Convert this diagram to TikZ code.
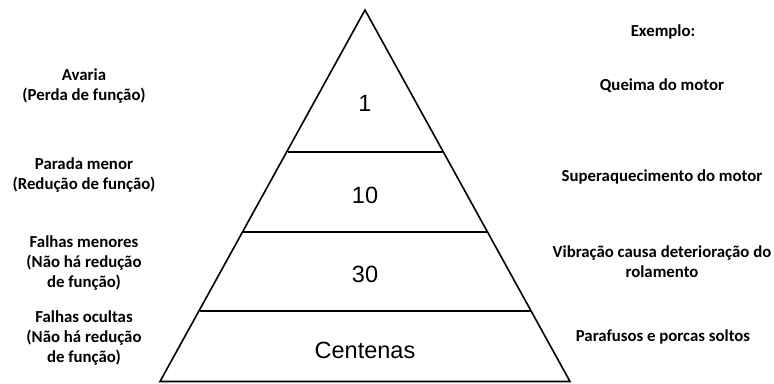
\documentclass[tikz,border=0pt]{standalone}
\usepackage{fontspec}
\setmainfont{Carlito}
\newfontfamily\numfont{Liberation Sans}
\begin{document}
\begin{tikzpicture}[x=1pt,y=-1pt,
  lbl/.style={font=\fontsize{16.8}{20}\selectfont\bfseries, align=center, inner sep=0pt},
  num/.style={font=\numfont\fontsize{23.5}{28}\selectfont, inner sep=0pt},
  edge/.style={line width=1.6pt, line join=miter}]
\useasboundingbox (0,0) rectangle (774,383);
% pyramid
\coordinate (apex) at (365,10);
\coordinate (bl) at (160,381.5);
\coordinate (br) at (570,381.5);
\draw[edge] (bl) -- (apex) -- (br) -- cycle;
\draw[edge] (287.5,152) -- (442.5,152);
\draw[edge] (243,232) -- (487,232);
\draw[edge] (199.5,311) -- (530.5,311);
% numbers
\node[num] (n1) at (365,103) {1};
\node[num] (n10) at (365,195) {10};
\node[num] (n30) at (365,274) {30};
\node[num] (nc) at (365,350) {Centenas};
% left labels
\node[lbl] (l1) at (84,86) {Avaria\\(Perda de função)};
\node[lbl] (l2) at (84,175) {Parada menor\\(Redução de função)};
\node[lbl] (l3) at (84,263) {Falhas menores\\(Não há redução\\de função)};
\node[lbl] (l4) at (84,338) {Falhas ocultas\\(Não há redução\\de função)};
% right labels
\node[lbl] (ex) at (663,32) {Exemplo:};
\node[lbl] (r1) at (662,86) {Queima do motor};
\node[lbl] (r2) at (662,177) {Superaquecimento do motor};
\node[lbl] (r3) at (662,262) {Vibração causa deterioração do\\rolamento};
\node[lbl] (r4) at (663,337) {Parafusos e porcas soltos};
\end{tikzpicture}
\end{document}
